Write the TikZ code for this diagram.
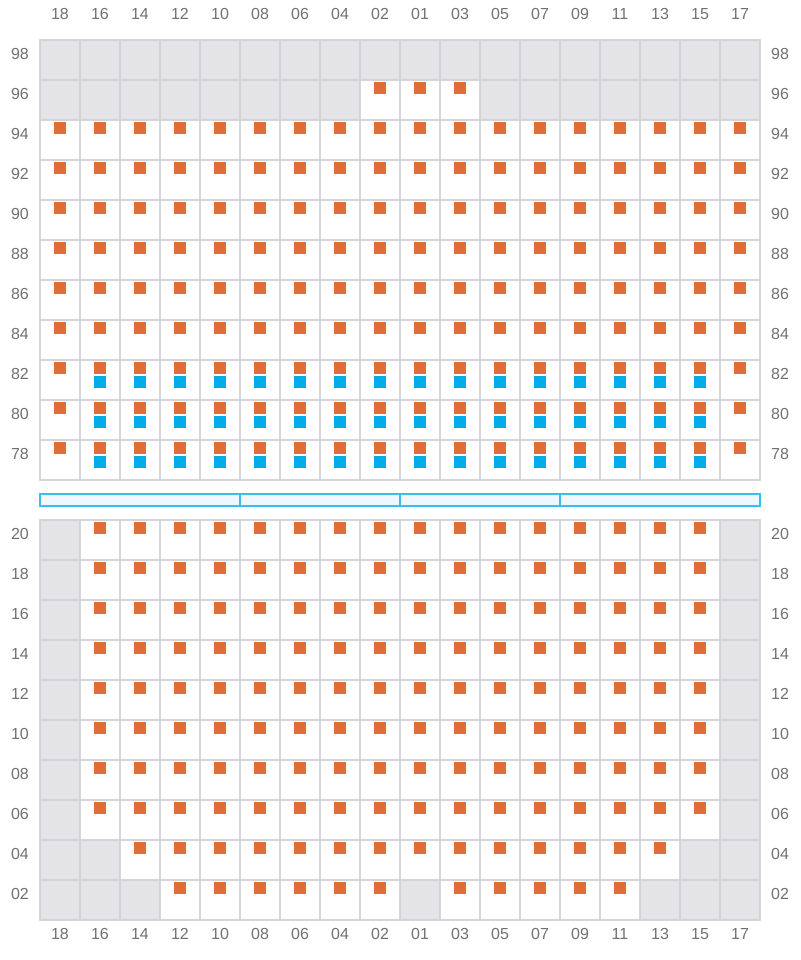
\documentclass[tikz,border=0pt]{standalone}
\usepackage{fontspec}
\setmainfont{Liberation Sans}
\usetikzlibrary{positioning}

\definecolor{gridline}{HTML}{D4D4D8}
\definecolor{blockfill}{HTML}{E4E4E7}
\definecolor{seatorange}{HTML}{E06C37}
\definecolor{seatblue}{HTML}{00ADE8}
\definecolor{barfill}{HTML}{EEF6FE}
\definecolor{barline}{HTML}{3BBCF0}
\definecolor{labelgray}{HTML}{707075}

\begin{document}
\begin{tikzpicture}[x=0.75pt,y=-0.75pt,
  cell/.style={draw=gridline, line width=1pt, fill=white},
  blocked/.style={draw=gridline, line width=1pt, fill=blockfill},
  seat/.style={fill=seatorange},
  vip/.style={fill=seatblue},
  bar/.style={draw=barline, line width=1pt, fill=barfill},
  lbl/.style={text=labelgray, font=\fontsize{12}{14}\selectfont, inner sep=0pt}
]
\useasboundingbox (0,0) rectangle (800,960);

% column numbers, top and bottom
\foreach \lab [count=\i from 0] in {18,16,14,12,10,08,06,04,02,01,03,05,07,09,11,13,15,17} {
  \node[lbl] (coltop-\i) at (60+40*\i,14) {\lab};
  \node[lbl] (colbot-\i) at (60+40*\i,934) {\lab};
}

% upper block
\foreach \r in {0,...,10}
  \foreach \c in {0,...,17} {
    \draw[cell] (40+40*\c,40+40*\r) rectangle ++(40,40);
    \fill[seat] (54+40*\c,42+40*\r) rectangle ++(12,12);
  }
\foreach \c in {0,...,17}
  \draw[blocked] (40+40*\c,40) rectangle ++(40,40);
\foreach \c in {0,...,7,11,12,...,17}
  \draw[blocked] (40+40*\c,80) rectangle ++(40,40);
\foreach \r in {8,9,10}
  \foreach \c in {1,...,16}
    \fill[vip] (54+40*\c,56+40*\r) rectangle ++(12,12);
\foreach \lab [count=\r from 0] in {98,96,94,92,90,88,86,84,82,80,78} {
  \node[lbl] (rowl-\lab) at (20,54+40*\r) {\lab};
  \node[lbl] (rowr-\lab) at (780,54+40*\r) {\lab};
}

% divider bar
\draw[bar] (40,494) rectangle (240,506);
\draw[bar] (240,494) rectangle (400,506);
\draw[bar] (400,494) rectangle (560,506);
\draw[bar] (560,494) rectangle (760,506);

% lower block
\foreach \r in {0,...,9}
  \foreach \c in {0,...,17} {
    \draw[cell] (40+40*\c,520+40*\r) rectangle ++(40,40);
    \fill[seat] (54+40*\c,522+40*\r) rectangle ++(12,12);
  }
\foreach \r in {0,...,7} {
  \draw[blocked] (40,520+40*\r) rectangle ++(40,40);
  \draw[blocked] (720,520+40*\r) rectangle ++(40,40);
}
\foreach \c in {0,1,16,17}
  \draw[blocked] (40+40*\c,840) rectangle ++(40,40);
\foreach \c in {0,1,2,9,15,16,17}
  \draw[blocked] (40+40*\c,880) rectangle ++(40,40);
\foreach \lab [count=\r from 0] in {20,18,16,14,12,10,08,06,04,02} {
  \node[lbl] (rowl-\lab) at (20,534+40*\r) {\lab};
  \node[lbl] (rowr-\lab) at (780,534+40*\r) {\lab};
}
\end{tikzpicture}
\end{document}
